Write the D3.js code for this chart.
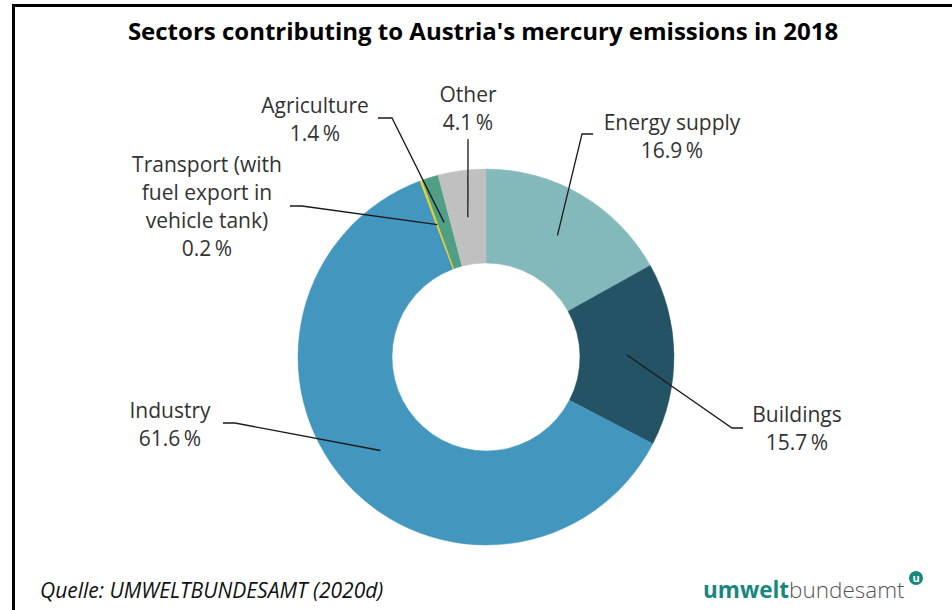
<!DOCTYPE html>
<html>
<head>
<meta charset="utf-8">
<script src="https://cdn.jsdelivr.net/npm/d3@7"></script>
<style>
  html, body { margin: 0; padding: 0; background: #fff; }
  svg { display: block; }
</style>
</head>
<body>
<svg id="chart" width="952" height="610"></svg>
<script>
// ---- data ----
const categories = ["Energy supply", "Buildings", "Industry", "Transport (with fuel export in vehicle tank)", "Agriculture", "Other"];
const shares = [16.9, 15.7, 61.6, 0.2, 1.4, 4.1];
const labelLines = [
  ["Energy supply"],
  ["Buildings"],
  ["Industry"],
  ["Transport (with", "fuel export in", "vehicle tank)"],
  ["Agriculture"],
  ["Other"]
];
const colors = ["#84b9bb", "#245366", "#4397be", "#f2d41e", "#4f9e85", "#c0c0c0"];

// ---- layout (positions of labels and elbows) ----
const labelPos = [
  {x: 672, y: 130, elbow: [582, 134], end: [593, 134]},
  {x: 797, y: 422, elbow: [732, 428], end: [743, 428]},
  {x: 170, y: 418, elbow: [235, 423], end: [223, 423]},
  {x: 207, y: 172, elbow: [302, 206], end: [290, 206]},
  {x: 315, y: 113, elbow: [392, 118], end: [378, 118]},
  {x: 468, y: 102, elbow: null, end: [468, 139]}
];

const svg = d3.select("#chart");
const cx = 486, cy = 357, rOuter = 188, rInner = 94;
const lineH = 28;
const fontFam = "'Open Sans', 'Noto Sans', sans-serif";

// frame
svg.append("path")
  .attr("d", `M13.5,610 L13.5,5.5 L952,5.5`)
  .attr("fill", "none").attr("stroke", "#000").attr("stroke-width", 3);

// title
svg.append("text")
  .attr("x", 483).attr("y", 40)
  .attr("text-anchor", "middle")
  .attr("font-family", fontFam)
  .attr("font-weight", 700)
  .attr("font-size", 24)
  .attr("fill", "#000")
  .text("Sectors contributing to Austria's mercury emissions in 2018");

const data = categories.map((c, i) => ({cat: c, value: shares[i], idx: i}));
const pie = d3.pie().sort(null).value(d => d.value).startAngle(0).endAngle(2 * Math.PI);
const arcs = pie(data);
const arc = d3.arc().innerRadius(rInner).outerRadius(rOuter);

const g = svg.append("g").attr("transform", `translate(${cx},${cy})`);
g.selectAll("path.slice").data(arcs).enter().append("path")
  .attr("class", "slice")
  .attr("d", arc)
  .attr("fill", d => colors[d.data.idx])
  .attr("stroke", d => colors[d.data.idx])
  .attr("stroke-width", 0.5);

// leader lines
arcs.forEach(d => {
  const i = d.data.idx;
  const c = arc.centroid(d);
  const p0 = [cx + c[0], cy + c[1]];
  const lp = labelPos[i];
  const pts = lp.elbow ? [p0, lp.elbow, lp.end] : [p0, lp.end];
  svg.append("path")
    .attr("d", d3.line()(pts))
    .attr("fill", "none")
    .attr("stroke", "#1a1a1a")
    .attr("stroke-width", 1.3);
});

// labels
arcs.forEach(d => {
  const i = d.data.idx;
  const lp = labelPos[i];
  const lines = labelLines[i].concat([d3.format(".1f")(shares[i]) + "\u2009%"]);
  const t = svg.append("text")
    .attr("text-anchor", "middle")
    .attr("font-family", fontFam)
    .attr("font-size", 21)
    .attr("fill", "#333");
  lines.forEach((ln, k) => {
    t.append("tspan").attr("x", lp.x).attr("y", lp.y + k * lineH).text(ln);
  });
});

// source
svg.append("text")
  .attr("x", 40).attr("y", 598)
  .attr("font-family", fontFam)
  .attr("font-style", "italic")
  .attr("font-size", 21)
  .attr("fill", "#111")
  .text("Quelle: UMWELTBUNDESAMT (2020d)");

// logo
const logo = svg.append("text")
  .attr("x", 703).attr("y", 598)
  .attr("font-family", fontFam)
  .attr("font-size", 22.5);
logo.append("tspan").attr("font-weight", 700).attr("fill", "#17877d").text("umwelt");
logo.append("tspan").attr("font-weight", 300).attr("fill", "#555").text("bundesamt");
svg.append("circle").attr("cx", 916).attr("cy", 578).attr("r", 7).attr("fill", "#17877d");
svg.append("text").attr("x", 916).attr("y", 582)
  .attr("text-anchor", "middle").attr("font-family", fontFam)
  .attr("font-weight", 700).attr("font-size", 11).attr("fill", "#fff").text("u");
</script>
</body>
</html>
